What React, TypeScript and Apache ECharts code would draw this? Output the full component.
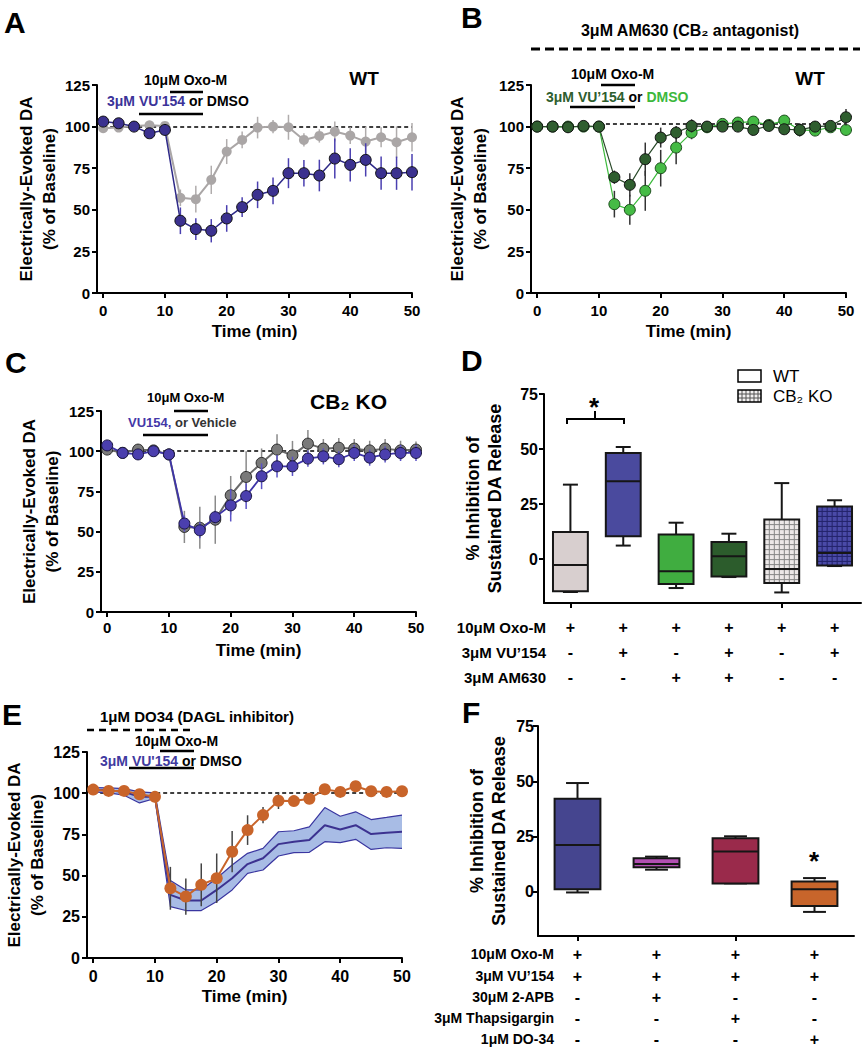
import React, { useEffect, useRef } from 'react';
import * as echarts from 'echarts';

// ---------- DATA ----------
const timeMin = [0, 2.5, 5, 7.5, 10, 12.5, 15, 17.5, 20, 22.5, 25, 27.5, 30, 32.5, 35, 37.5, 40, 42.5, 45, 47.5, 50];
const timeTicks = [0, 10, 20, 30, 40, 50];
const inhibTicks = [0, 25, 50, 75];

// Panel A (WT)
const aVuMean = [103, 102, 100, 96, 98, 43.4, 38.4, 37.4, 44.8, 51.6, 59, 61.4, 72, 72, 70.6, 80.8, 77, 80, 72, 72, 72.6];
const aVuSem = [1, 1, 1, 1.5, 1, 8, 6.5, 7, 8, 6, 8, 8, 9, 8, 9.5, 12, 10, 10, 10, 10, 11];
const aDmsoMean = [99, 99.4, 100.4, 100.8, 100.4, 57.2, 56.4, 68, 85, 92, 99.4, 100, 99.6, 92, 94.4, 97, 94.6, 91, 93.6, 90.6, 93.6];
const aDmsoSem = [1, 1, 1, 1, 1, 5, 8, 8.5, 7.5, 5, 6.5, 4, 7.5, 4, 4, 6, 5, 9, 6, 9.5, 8.5];

// Panel B (WT + AM630)
const bVuMean = [100, 100, 99.6, 100.4, 100, 69.6, 65, 80.4, 93.4, 96.4, 100.4, 100, 100, 100, 98, 100.4, 98.4, 98, 100, 100.4, 105.6];
const bVuSem = [1, 1, 1, 1, 1, 4, 7, 10, 6, 4, 4, 3, 3, 3, 3, 3, 3, 3, 3, 3, 5];
const bDmsoMean = [100, 100, 100, 100, 100, 53.4, 50, 61.4, 75, 87.4, 96.4, 99.6, 101.6, 102.4, 103, 101, 103.6, 98, 97.6, 99.6, 98];
const bDmsoSem = [1, 1, 1, 1, 1, 8, 9, 12, 11, 10, 4, 3, 2, 2, 2, 2, 3, 4, 3, 3, 3];

// Panel C (CB2 KO)
const cVuMean = [103.6, 98.9, 98, 100, 98, 55, 50.8, 59, 66.3, 72.1, 84.4, 90.6, 90.6, 95.4, 96.8, 95, 98.9, 96, 98, 98.9, 98.9];
const cVuSem = [1, 1, 1, 1, 1, 5, 5, 4, 10, 8, 8, 7, 6, 5, 5, 5, 5, 5, 5, 5, 5];
const cVehMean = [101, 99, 101, 100.5, 98, 52.9, 52.4, 57.4, 72.6, 84, 92.7, 101, 97.4, 104.7, 101.6, 102.2, 101.6, 100.5, 101.6, 100.5, 101];
const cVehSem = [1, 1, 1, 1, 1, 10, 13, 15, 12, 16, 9, 9.5, 9, 8.5, 6, 6, 6, 6, 6, 6, 5];

// Panel E (DO34)
const eDo34Mean = [102.2, 101.4, 101.4, 99.4, 97.8, 42.3, 37.3, 44.4, 48.4, 64.5, 77.6, 86.7, 95.4, 95.2, 96.6, 102.4, 100.8, 104.2, 101.2, 100.8, 101.2];
const eDo34Sem = [1, 1, 1, 1, 1, 13, 11, 13, 15, 12.5, 9, 5, 5, 2, 3, 2, 1, 1, 1, 1, 1];
const eVuMean = [102, 101.8, 100.8, 97.8, 98, 38.3, 34.9, 34.9, 41.3, 48.4, 57, 60.5, 69.1, 70.6, 71.6, 80.6, 78, 80.6, 75.2, 76, 76.6];
const eVuUpper = [103.4, 103.2, 102.8, 100.8, 100.2, 47, 41.3, 41.3, 48.4, 56.4, 63.5, 66.5, 76.6, 77.2, 79.6, 91.3, 86, 88.7, 84, 85.3, 86.7];
const eVuLower = [100.8, 100.2, 98.8, 94.1, 96.8, 31.2, 28.8, 28.8, 34.3, 41.3, 51.4, 53.4, 61.9, 63.9, 64.1, 70.6, 70, 72, 65.9, 66.9, 66.5];

// Panel D box plots
const dCategories = ['WT Oxo-M', 'WT Oxo-M+VU154', 'WT Oxo-M+AM630', 'WT Oxo-M+VU154+AM630', 'KO Oxo-M', 'KO Oxo-M+VU154'];
const dMin = [-15, 6.1, -13.2, -8.2, -15.2, -3.2];
const dQ1 = [-14.7, 10.3, -11.4, -7.9, -10.9, -2.9];
const dMed = [-2.7, 35.3, -5.6, 1.2, -4.5, 2.7];
const dQ3 = [12.3, 48.2, 11.1, 7.7, 17.9, 23.9];
const dMax = [33.8, 50.9, 16.5, 11.5, 34.5, 26.7];
const dRowLabels = ['10μM Oxo-M', '3μM VU’154', '3μM AM630'];
const dRows = [
  ['+', '+', '+', '+', '+', '+'],
  ['-', '+', '-', '+', '-', '+'],
  ['-', '-', '+', '+', '-', '-'],
];

// Panel F box plots
const fCategories = ['VU154', 'VU154+2-APB', 'VU154+Thapsigargin', 'VU154+DO-34'];
const fMin = [-0.3, 10, 3.8, -9.1];
const fQ1 = [1.2, 11.1, 3.8, -6.4];
const fMed = [21.2, 12.6, 18.2, 1.2];
const fQ3 = [42.1, 15.2, 24.2, 4.7];
const fMax = [49.2, 15.9, 25.1, 6.2];
const fRowLabels = ['10μM Oxo-M', '3μM VU’154', '30μM 2-APB', '3μM Thapsigargin', '1μM DO-34'];
const fRows = [
  ['+', '+', '+', '+'],
  ['+', '+', '+', '+'],
  ['-', '+', '-', '-'],
  ['-', '-', '+', '-'],
  ['-', '-', '-', '+'],
];

// ---------- STYLES ----------
const FONT = "'Liberation Sans', Arial, 'DejaVu Sans', sans-serif";
const dFills = ['#d8cfcf', '#4a4a9e', '#40ad40', '#2c5c2c', '#ece8e8', '#4a4aa8'];
const dPatterns: (string | null)[] = [null, null, null, null, '#858585', '#23236a'];
const fFills = ['#45458f', '#b24fb2', '#9a2a4b', '#c8652b'];
const fPatterns: (string | null)[] = [null, null, null, null];

const txt = (fontSize: number, extra: any = {}) => ({
  color: '#000', fontFamily: FONT, fontWeight: 'bold', fontSize, ...extra,
});

const pairs = (vals: number[]) => timeMin.map((t, i) => [t, vals[i]]);
const errs = (means: number[], sem: number[]) => timeMin.map((t, i) => [t, means[i] - sem[i], means[i] + sem[i]]);

function timeX(grid: number, labelSize: number, margin: number, nameGap: number, nameSize: number) {
  return {
    type: 'value', gridIndex: grid, min: -1, max: 50, splitNumber: 5,
    axisLine: { show: true, onZero: false, lineStyle: { color: '#000', width: 2 } },
    axisTick: { show: true, length: 5, customValues: timeTicks, lineStyle: { color: '#000', width: 2 } },
    axisLabel: { show: true, customValues: timeTicks, margin, ...txt(labelSize) },
    splitLine: { show: false },
    name: 'Time (min)', nameLocation: 'middle', nameGap, nameTextStyle: txt(nameSize),
  };
}

function daY(grid: number, labelSize: number, margin: number, nameGap: number, nameSize: number) {
  return {
    type: 'value', gridIndex: grid, min: 0, max: 125, interval: 25,
    axisLine: { show: true, onZero: false, lineStyle: { color: '#000', width: 2 } },
    axisTick: { show: true, length: 5, lineStyle: { color: '#000', width: 2 } },
    axisLabel: { margin, ...txt(labelSize) },
    splitLine: { show: false },
    name: 'Electrically-Evoked DA\n(% of Baseline)', nameLocation: 'middle', nameRotate: 90, nameGap,
    nameTextStyle: txt(nameSize, { lineHeight: 23 }),
  };
}

function inhibY(grid: number, margin: number, nameGap: number) {
  return {
    type: 'value', gridIndex: grid, min: -20, max: 75,
    axisLine: { show: true, onZero: false, lineStyle: { color: '#000', width: 2 } },
    axisTick: { show: true, length: 5, customValues: inhibTicks, lineStyle: { color: '#000', width: 2 } },
    axisLabel: { margin, customValues: inhibTicks, ...txt(16) },
    splitLine: { show: false },
    name: '% Inhibition of\nSustained DA Release', nameLocation: 'middle', nameRotate: 90, nameGap,
    nameTextStyle: txt(18, { lineHeight: 22 }),
  };
}

function catX(grid: number, cats: string[]) {
  return {
    type: 'category', gridIndex: grid, data: cats, boundaryGap: true,
    axisLine: { show: true, onZero: false, lineStyle: { color: '#000', width: 2 } },
    axisTick: { show: true, alignWithLabel: true, length: 5, lineStyle: { color: '#000', width: 2 } },
    axisLabel: { show: false },
    splitLine: { show: false },
  };
}

function rowX(grid: number, cats: string[], row: string[], label: string, offset: number, nameGap: number, labelSize: number, nameSize: number) {
  return {
    type: 'category', gridIndex: grid, data: cats, boundaryGap: true, position: 'bottom', offset,
    axisLine: { show: false, onZero: false },
    axisTick: { show: false },
    axisLabel: { show: true, interval: 0, margin: 0, verticalAlign: 'middle', formatter: (_v: string, i: number) => row[i], ...txt(labelSize) },
    splitLine: { show: false },
    name: label, nameLocation: 'start', nameGap,
    nameTextStyle: txt(nameSize, { align: 'right', verticalAlign: 'middle' }),
  };
}

function errorSeries(axis: number, data: number[][], color: string, z: number, width = 1.5) {
  return {
    type: 'custom', xAxisIndex: axis, yAxisIndex: axis, z, silent: true,
    encode: { x: 0, y: [1, 2] },
    data,
    renderItem: (_p: any, api: any) => {
      const x = api.value(0);
      const p1 = api.coord([x, api.value(1)]);
      const p2 = api.coord([x, api.value(2)]);
      return { type: 'line', shape: { x1: p1[0], y1: p1[1], x2: p2[0], y2: p2[1] }, style: { stroke: color, lineWidth: width } };
    },
  };
}

function lineSeries(name: string, axis: number, vals: number[], fill: string, border: string, lineColor: string, size: number, lineWidth: number, z: number, extra: any = {}) {
  return {
    type: 'line', name, xAxisIndex: axis, yAxisIndex: axis, data: pairs(vals), z,
    symbol: 'circle', symbolSize: size, showSymbol: true, silent: true,
    itemStyle: { color: fill, borderColor: border, borderWidth: border === 'none' ? 0 : 1 },
    lineStyle: { color: lineColor, width: lineWidth },
    emphasis: { disabled: true },
    ...extra,
  };
}

function baseline(x1: number, x2: number, y: number) {
  return {
    silent: true, symbol: ['none', 'none'], z: 1, label: { show: false },
    lineStyle: { type: [4, 3], color: '#000', width: 1.5 },
    emphasis: { disabled: true },
    data: [[{ coord: [x1, y] }, { coord: [x2, y] }]],
  };
}

function bandSeries(axis: number, lower: number[], upper: number[], fill: string) {
  return {
    type: 'custom', xAxisIndex: axis, yAxisIndex: axis, z: 1, silent: true,
    encode: { x: 0, y: [1, 2] },
    data: timeMin.map((t, i) => [t, lower[i], upper[i]]),
    renderItem: (params: any, api: any) => {
      if (params.dataIndexInside !== 0) return null;
      const n = params.dataInsideLength;
      const top: number[][] = [];
      const bottom: number[][] = [];
      for (let k = 0; k < n; k++) {
        const x = api.value(0, k);
        top.push(api.coord([x, api.value(2, k)]));
        bottom.push(api.coord([x, api.value(1, k)]));
      }
      return { type: 'polygon', shape: { points: top.concat(bottom.reverse()) }, style: { fill, stroke: 'none' } };
    },
    markLine: baseline(0, 50, 100),
  };
}

function boxSeries(axis: number, mins: number[], q1s: number[], meds: number[], q3s: number[], maxs: number[], fills: string[], patterns: (string | null)[], widthRatio: number, capRatio: number) {
  const data = mins.map((m, i) => [i, m, q1s[i], meds[i], q3s[i], maxs[i]]);
  return {
    type: 'custom', xAxisIndex: axis, yAxisIndex: axis, z: 3, silent: true,
    encode: { x: 0, y: [1, 2, 3, 4, 5] },
    data,
    renderItem: (params: any, api: any) => {
      const i = params.dataIndex;
      const cat = api.value(0);
      const cx = api.coord([cat, 0])[0];
      const bw = api.size([1, 0])[0] * widthRatio;
      const cap = bw * capRatio;
      const ys = [1, 2, 3, 4, 5].map((k) => api.coord([cat, api.value(k)])[1]);
      const [yMin, yQ1, yMed, yQ3, yMax] = ys;
      const left = cx - bw / 2;
      const stroke = '#161616';
      const lw = 2;
      const kids: any[] = [];
      const ln = (x1: number, y1: number, x2: number, y2: number, s = stroke, w = lw) =>
        kids.push({ type: 'line', shape: { x1, y1, x2, y2 }, style: { stroke: s, lineWidth: w } });
      ln(cx, yMax, cx, yQ3);
      ln(cx, yQ1, cx, yMin);
      ln(cx - cap / 2, yMax, cx + cap / 2, yMax);
      ln(cx - cap / 2, yMin, cx + cap / 2, yMin);
      kids.push({ type: 'rect', shape: { x: left, y: yQ3, width: bw, height: yQ1 - yQ3 }, style: { fill: fills[i], stroke: 'none' } });
      const pat = patterns[i];
      if (pat) {
        for (let gx = left + 5; gx < left + bw - 1; gx += 5) ln(gx, yQ3, gx, yQ1, pat, 1);
        for (let gy = yQ3 + 5; gy < yQ1 - 1; gy += 5) ln(left, gy, left + bw, gy, pat, 1);
      }
      kids.push({ type: 'rect', shape: { x: left, y: yQ3, width: bw, height: yQ1 - yQ3 }, style: { fill: 'none', stroke, lineWidth: lw } });
      ln(left, yMed, left + bw, yMed);
      return { type: 'group', children: kids };
    },
  };
}

// ---------- GRAPHIC ANNOTATIONS ----------
function gText(text: string, x: number, y: number, size: number, opts: any = {}) {
  return {
    type: 'text', x, y, silent: true,
    style: { text, fontSize: size, fontWeight: opts.weight || 'bold', fontFamily: FONT, fill: opts.fill || '#000', align: opts.align || 'left', verticalAlign: 'middle', rich: opts.rich },
  };
}
function gLine(x1: number, y1: number, x2: number, y2: number, w = 2.5, dash: any = null) {
  return { type: 'line', silent: true, shape: { x1, y1, x2, y2 }, style: { stroke: '#000', lineWidth: w, lineDash: dash } };
}
const rs = (fill: string, size: number) => ({ fill, fontSize: size, fontWeight: 'bold', fontFamily: FONT });

function legendPatternIcon(x: number, y: number, w: number, h: number) {
  const els: any[] = [{ type: 'rect', silent: true, shape: { x, y, width: w, height: h }, style: { fill: '#f2f0f0', stroke: 'none' } }];
  for (let gx = x + 4; gx < x + w; gx += 4) els.push({ type: 'line', silent: true, shape: { x1: gx, y1: y, x2: gx, y2: y + h }, style: { stroke: '#555', lineWidth: 1 } });
  for (let gy = y + 4; gy < y + h; gy += 4) els.push({ type: 'line', silent: true, shape: { x1: x, y1: gy, x2: x + w, y2: gy }, style: { stroke: '#555', lineWidth: 1 } });
  els.push({ type: 'rect', silent: true, shape: { x, y, width: w, height: h }, style: { fill: 'none', stroke: '#000', lineWidth: 1.5 } });
  return els;
}

function buildOption() {
  const graphic: any[] = [
    // panel letters
    gText('A', 4, 22, 30), gText('B', 461, 17, 30), gText('C', 5, 362, 30),
    gText('D', 461, 360, 30), gText('E', 2, 714, 30), gText('F', 462, 712, 30),
    // A
    gText('10μM Oxo-M', 144, 80, 14), gLine(170, 92, 203, 92),
    gText("{v|3μM VU'154} {k|or DMSO}", 107, 101, 14, { rich: { v: rs('#3b3399', 14), k: rs('#000', 14) } }), gLine(139, 114, 203, 114),
    gText('WT', 364, 78, 19, { align: 'center' }),
    // B
    gText('3μM AM630 (CB₂ antagonist)', 690, 30, 16, { align: 'center' }),
    gLine(531, 49, 860, 49, 3, [9, 5]),
    gText('10μM Oxo-M', 571, 74, 14), gLine(601, 85, 635, 85),
    gText('{d|3μM VU’154} {k|or} {l|DMSO}', 546, 97, 14, { rich: { d: rs('#2e5e2e', 14), k: rs('#000', 14), l: rs('#3cb83c', 14) } }), gLine(570, 107, 635, 107),
    gText('WT', 810, 78, 19, { align: 'center' }),
    // C
    gText('10μM Oxo-M', 147, 397, 13), gLine(174, 411, 208, 411),
    gText('{v|VU154,} {k|or Vehicle}', 128, 422, 13, { rich: { v: rs('#4437a8', 13), k: rs('#333', 13) } }), gLine(143, 435, 208, 435),
    gText('CB₂ KO', 310, 401, 21),
    // D legend + significance
    { type: 'rect', silent: true, shape: { x: 738, y: 370, width: 23, height: 12 }, style: { fill: '#fff', stroke: '#000', lineWidth: 1.5 } },
    ...legendPatternIcon(738, 390, 23, 12),
    gText('WT', 773, 376, 17, { weight: 'normal' }),
    gText('CB₂ KO', 773, 396, 17, { weight: 'normal' }),
    { type: 'polyline', silent: true, shape: { points: [[567, 424], [567, 419], [624, 419], [624, 424]] }, style: { stroke: '#000', lineWidth: 2, fill: 'none' } },
    gLine(595, 419, 595, 411, 2),
    gText('*', 594, 407, 26, { align: 'center' }),
    // E
    gText('1μM DO34 (DAGL inhibitor)', 100, 716, 15),
    gLine(87, 730, 195, 730, 2.5, [7, 5]),
    gText('10μM Oxo-M', 135, 741, 14), gLine(160, 751, 194, 751),
    gText("{v|3μM VU'154} {k|or DMSO}", 100, 761, 14, { rich: { v: rs('#3f3aa0', 14), k: rs('#000', 14) } }), gLine(129, 768, 194, 768),
    // F
    gText('*', 814, 861, 26, { align: 'center' }),
  ];

  const grid = [
    { left: 97, top: 85, width: 315, height: 208 },
    { left: 531, top: 85, width: 315, height: 208 },
    { left: 101, top: 411, width: 315, height: 201 },
    { left: 544, top: 394, width: 317, height: 209 },
    { left: 87, top: 752, width: 315, height: 206 },
    { left: 538, top: 726, width: 316, height: 210 },
  ].map((g) => ({ ...g, containLabel: false, outerBoundsMode: 'none' }));

  const xAxis: any[] = [
    timeX(0, 15, 10, 30, 17),
    timeX(1, 15, 10, 30, 17),
    timeX(2, 15, 8, 30, 17),
    catX(3, dCategories),
    timeX(4, 16, 10, 30, 17),
    catX(5, fCategories),
  ];
  dRows.forEach((row, k) => xAxis.push(rowX(3, dCategories, row, dRowLabels[k], [24, 49, 74][k], -2, 16, 15)));
  fRows.forEach((row, k) => xAxis.push(rowX(5, fCategories, row, fRowLabels[k], [18, 40, 61, 82, 103][k], -16, 16, 14)));

  const yAxis: any[] = [
    daY(0, 15, 7, 36, 17),
    daY(1, 15, 7, 39, 17),
    daY(2, 15, 7, 37, 17),
    inhibY(3, 6, 38),
    daY(4, 16, 7, 37, 17),
    inhibY(5, 4, 28),
  ];

  const series: any[] = [
    // A
    errorSeries(0, errs(aDmsoMean, aDmsoSem), '#b0acac', 2),
    lineSeries('DMSO (WT)', 0, aDmsoMean, '#aaa6a6', 'none', '#aaa6a6', 10, 2, 3, { markLine: baseline(0, 50, 100) }),
    errorSeries(0, errs(aVuMean, aVuSem), '#4a3fb0', 4),
    lineSeries("VU'154 (WT)", 0, aVuMean, '#3b318f', '#111', '#2f2a88', 11, 1.5, 5),
    // B
    errorSeries(1, errs(bDmsoMean, bDmsoSem), '#333', 2),
    lineSeries('DMSO (AM630)', 1, bDmsoMean, '#45bb45', '#1d4d1d', '#3cba3c', 11, 1.2, 3, { markLine: baseline(10, 50, 101.5) }),
    errorSeries(1, errs(bVuMean, bVuSem), '#333', 4),
    lineSeries('VU’154 (AM630)', 1, bVuMean, '#2f5e2f', '#111', '#2a4a2a', 11, 1.2, 5),
    // C
    errorSeries(2, errs(cVehMean, cVehSem), '#8a8a8a', 2),
    lineSeries('Vehicle (CB2 KO)', 2, cVehMean, '#7a7a7a', '#2a2a2a', '#6a6a6a', 11, 2, 3, { markLine: baseline(0, 50, 100) }),
    errorSeries(2, errs(cVuMean, cVuSem), '#5b52c6', 4),
    lineSeries('VU154 (CB2 KO)', 2, cVuMean, '#4b3fae', '#1a1640', '#3e34a8', 11, 1.8, 5),
    // D
    boxSeries(3, dMin, dQ1, dMed, dQ3, dMax, dFills, dPatterns, 0.66, 0.43),
    // E band (VU154 mean ± SEM)
    bandSeries(4, eVuLower, eVuUpper, '#a8bce5'),
    { type: 'line', name: 'VU154 upper', xAxisIndex: 4, yAxisIndex: 4, data: pairs(eVuUpper), symbol: 'none', lineStyle: { color: '#3a36a0', width: 1.2 }, z: 2, silent: true, emphasis: { disabled: true } },
    { type: 'line', name: 'VU154 lower', xAxisIndex: 4, yAxisIndex: 4, data: pairs(eVuLower), symbol: 'none', lineStyle: { color: '#3a36a0', width: 1.2 }, z: 2, silent: true, emphasis: { disabled: true } },
    { type: 'line', name: 'VU154 mean', xAxisIndex: 4, yAxisIndex: 4, data: pairs(eVuMean), symbol: 'none', lineStyle: { color: '#3c3290', width: 2 }, z: 3, silent: true, emphasis: { disabled: true } },
    errorSeries(4, errs(eDo34Mean, eDo34Sem), '#444', 4),
    lineSeries('DO34 + VU154', 4, eDo34Mean, '#c8642a', 'none', '#c8642a', 12, 2, 5),
    // F
    boxSeries(5, fMin, fQ1, fMed, fQ3, fMax, fFills, fPatterns, 0.58, 0.5),
  ];

  return {
    animation: false,
    textStyle: { fontFamily: FONT },
    grid, xAxis, yAxis, series, graphic,
  };
}

export default function App() {
  const ref = useRef<HTMLDivElement>(null);
  useEffect(() => {
    document.body.style.margin = '0';
    const chart = echarts.init(ref.current as HTMLDivElement, undefined, { renderer: 'svg' });
    chart.setOption(buildOption() as any);
    return () => chart.dispose();
  }, []);
  return <div ref={ref} style={{ width: 862, height: 1050 }} />;
}
